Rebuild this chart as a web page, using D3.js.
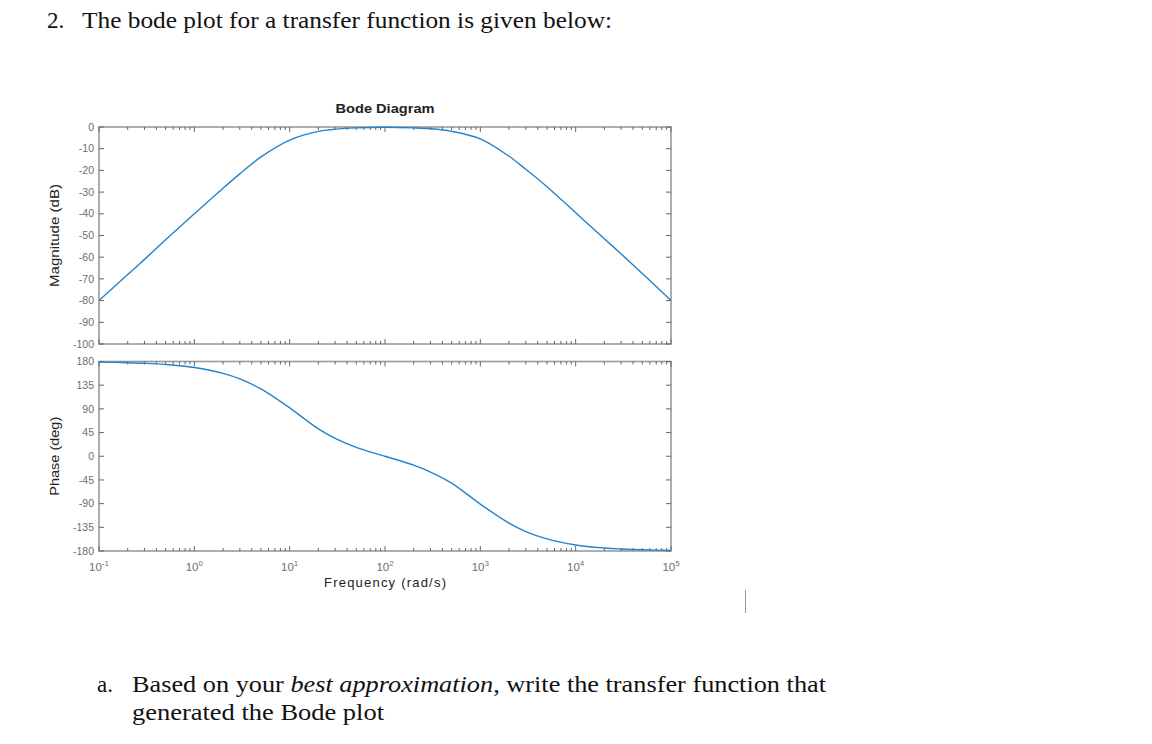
<!DOCTYPE html>
<html>
<head>
<meta charset="utf-8">
<script src="https://cdn.jsdelivr.net/npm/d3@7"></script>
<style>
  body { margin: 0; background: #fff; }
  svg { display: block; }
</style>
</head>
<body>
<div id="chart"></div>
<script>
// values
const freqs = [0.1, 0.2, 0.3, 0.5, 1, 2, 3, 5, 10, 20, 30, 50, 100, 200, 300, 500,
  1e3, 2e3, 3e3, 5e3, 1e4, 2e4, 3e4, 5e4, 1e5];
const magDb = [-80, -68, -61, -52, -40, -28.2, -21.6, -13.8, -6, -2, -1, -0.4, -0.1, -0.4, -0.8, -2,
  -5.5, -13.5, -19.5, -27.5, -39.5, -51.5, -58.5, -67.5, -80];
const phaseDeg = [178.9, 177.7, 176.6, 174.3, 168.5, 157.5, 147, 128, 92, 52, 34, 17, 0, -17, -30, -51,
  -91, -127, -143, -157, -168.5, -174.3, -176.2, -177.7, -178.9];

const xDecades = [-1, 0, 1, 2, 3, 4, 5];
const magTicks = [0, -10, -20, -30, -40, -50, -60, -70, -80, -90, -100];
const phaseTicks = [180, 135, 90, 45, 0, -45, -90, -135, -180];

const W = 1152, H = 744;
const left = 99, right = 671;
const mag = {top: 127, bottom: 344};
const ph = {top: 361.5, bottom: 551};

const svg = d3.select("#chart").append("svg")
  .attr("width", W).attr("height", H);

// document text around the figure
const serif = "'Liberation Serif', 'DejaVu Serif', serif";
svg.append("text").attr("x", 47).attr("y", 28)
  .style("font-family", serif).style("font-size", "23px").attr("fill", "#111")
  .text("2.");
svg.append("text").attr("x", 82).attr("y", 28)
  .attr("textLength", 530).attr("lengthAdjust", "spacingAndGlyphs")
  .style("font-family", serif).style("font-size", "23px").attr("fill", "#111")
  .text("The bode plot for a transfer function is given below:");

svg.append("text").attr("x", 97).attr("y", 692)
  .style("font-family", serif).style("font-size", "23px").attr("fill", "#111")
  .text("a.");
const line1 = svg.append("text").attr("x", 132).attr("y", 692)
  .attr("textLength", 694).attr("lengthAdjust", "spacingAndGlyphs")
  .style("font-family", serif).style("font-size", "23px").attr("fill", "#111");
line1.append("tspan").text("Based on your ");
line1.append("tspan").style("font-style", "italic").text("best approximation");
line1.append("tspan").text(", write the transfer function that");
svg.append("text").attr("x", 132).attr("y", 720)
  .attr("textLength", 252).attr("lengthAdjust", "spacingAndGlyphs")
  .style("font-family", serif).style("font-size", "23px").attr("fill", "#111")
  .text("generated the Bode plot");

// text cursor mark
svg.append("line").attr("x1", 745.5).attr("x2", 745.5).attr("y1", 590).attr("y2", 613)
  .attr("stroke", "#999").attr("stroke-width", 1);

// scales
const x = d3.scaleLog().domain([0.1, 1e5]).range([left, right]);
const yMag = d3.scaleLinear().domain([-100, 0]).range([mag.bottom, mag.top]);
const yPh = d3.scaleLinear().domain([-180, 180]).range([ph.bottom, ph.top]);

const sans = "'Liberation Sans', Arial, sans-serif";
const axisGray = "#9a9a9a";
const labelGray = "#6e6e6e";

// minor and major log ticks
const minorTicks = [];
for (let d = -1; d < 5; d++) {
  for (let m = 2; m <= 9; m++) minorTicks.push(m * Math.pow(10, d));
}

function drawPanel(p, y, ticks, data) {
  const g = svg.append("g");
  g.append("rect")
    .attr("x", left).attr("y", p.top)
    .attr("width", right - left).attr("height", p.bottom - p.top)
    .attr("fill", "none").attr("stroke", axisGray).attr("stroke-width", 1.6);

  // y ticks inward on both sides
  g.selectAll(".yl").data(ticks).enter().append("line")
    .attr("x1", left).attr("x2", left + 5)
    .attr("y1", d => y(d)).attr("y2", d => y(d))
    .attr("stroke", "#666").attr("stroke-width", 1);
  g.selectAll(".yr").data(ticks).enter().append("line")
    .attr("x1", right - 5).attr("x2", right)
    .attr("y1", d => y(d)).attr("y2", d => y(d))
    .attr("stroke", "#666").attr("stroke-width", 1);
  g.selectAll(".ylab").data(ticks).enter().append("text")
    .attr("x", left - 5).attr("y", d => y(d)).attr("dy", "0.35em")
    .attr("text-anchor", "end")
    .style("font-family", sans).style("font-size", "10.5px").attr("fill", labelGray)
    .text(d => d);

  // x ticks inward on top and bottom
  [p.top, p.bottom].forEach(edge => {
    const dir = edge === p.top ? 1 : -1;
    g.selectAll(null).data(minorTicks).enter().append("line")
      .attr("x1", d => x(d)).attr("x2", d => x(d))
      .attr("y1", edge).attr("y2", edge + dir * 3)
      .attr("stroke", "#666").attr("stroke-width", 1);
    g.selectAll(null).data(xDecades).enter().append("line")
      .attr("x1", d => x(Math.pow(10, d))).attr("x2", d => x(Math.pow(10, d)))
      .attr("y1", edge).attr("y2", edge + dir * 5)
      .attr("stroke", "#666").attr("stroke-width", 1);
  });

  const pts = freqs.map((f, i) => [f, data[i]]);
  const line = d3.line()
    .x(d => x(d[0])).y(d => y(d[1]))
    .curve(d3.curveCatmullRom.alpha(0.5));
  g.append("path").datum(pts)
    .attr("d", line)
    .attr("fill", "none").attr("stroke", "#2483c9").attr("stroke-width", 1.4);
}

drawPanel(mag, yMag, magTicks, magDb);
drawPanel(ph, yPh, phaseTicks, phaseDeg);

// x tick labels 10^n
const xl = svg.selectAll(".xlab").data(xDecades).enter().append("text")
  .attr("x", d => x(Math.pow(10, d)))
  .attr("y", 571)
  .attr("text-anchor", "middle")
  .style("font-family", sans).style("font-size", "11.5px").attr("fill", labelGray);
xl.append("tspan").text("10");
xl.append("tspan").attr("dy", -5).style("font-size", "8px").text(d => d);

// titles and axis labels
svg.append("text").attr("x", 385).attr("y", 113).attr("text-anchor", "middle")
  .attr("textLength", 99).attr("lengthAdjust", "spacingAndGlyphs")
  .style("font-family", sans).style("font-size", "13.5px").style("font-weight", "bold")
  .attr("fill", "#222").text("Bode Diagram");
svg.append("text").attr("x", 385).attr("y", 587).attr("text-anchor", "middle")
  .attr("textLength", 122).attr("lengthAdjust", "spacing")
  .style("font-family", sans).style("font-size", "13px").attr("fill", "#222")
  .text("Frequency  (rad/s)");
svg.append("text")
  .attr("transform", `translate(59,${(mag.top + mag.bottom) / 2}) rotate(-90)`)
  .attr("text-anchor", "middle")
  .attr("textLength", 103).attr("lengthAdjust", "spacingAndGlyphs")
  .style("font-family", sans).style("font-size", "13px").attr("fill", "#222")
  .text("Magnitude (dB)");
svg.append("text")
  .attr("transform", `translate(59,${(ph.top + ph.bottom) / 2}) rotate(-90)`)
  .attr("text-anchor", "middle")
  .attr("textLength", 79).attr("lengthAdjust", "spacingAndGlyphs")
  .style("font-family", sans).style("font-size", "13px").attr("fill", "#222")
  .text("Phase (deg)");
</script>
</body>
</html>
